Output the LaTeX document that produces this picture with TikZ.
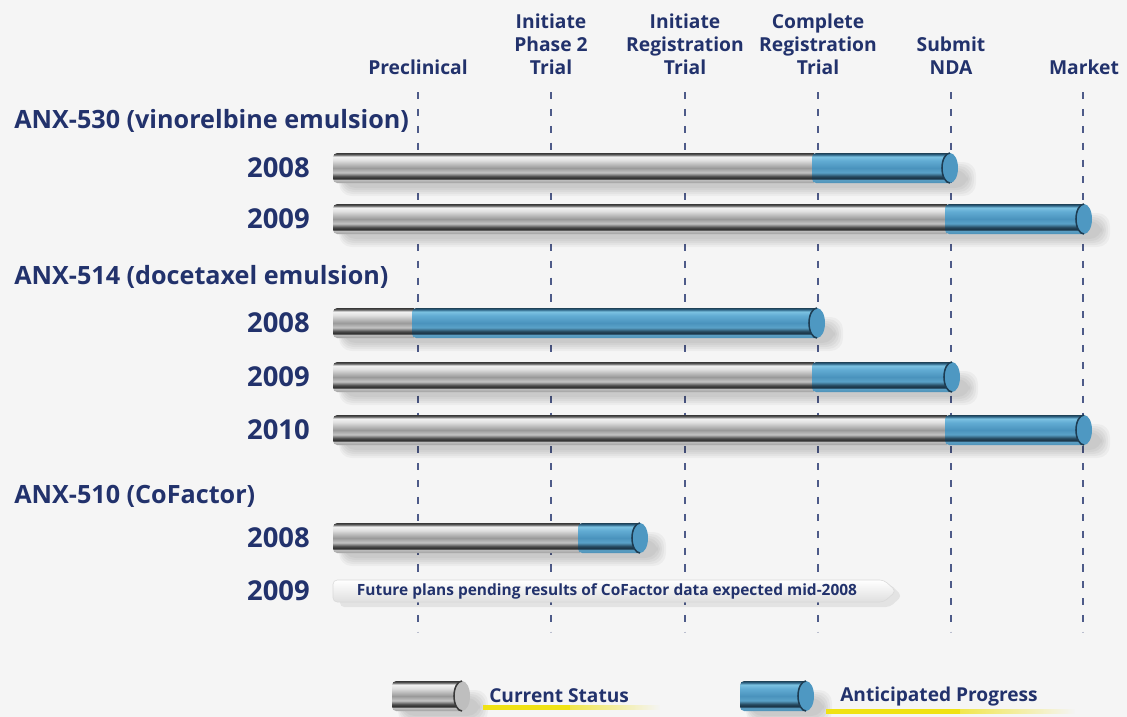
\documentclass[tikz,border=0pt]{standalone}
\usepackage{fontspec}
\setmainfont{Open Sans}
\usepackage{xcolor}
\usepackage{tikz}
\usetikzlibrary{fadings}

\definecolor{ink}{RGB}{34,50,108}
\definecolor{paper}{RGB}{245,245,245}
\definecolor{hiyellow}{RGB}{240,226,20}
% steel tube, bottom to top
\definecolor{stA}{HTML}{A0A0A0}
\definecolor{stB}{HTML}{BDBDBD}
\definecolor{stC}{HTML}{2E2E2E}
\definecolor{stD}{HTML}{4A4A4A}
\definecolor{stE}{HTML}{C4C4C4}
\definecolor{stF}{HTML}{9A9A9A}
\definecolor{stG}{HTML}{DEDEDE}
\definecolor{stH}{HTML}{F2F2F2}
\definecolor{stI}{HTML}{5A5A5A}
\definecolor{stJ}{HTML}{383838}
% blue tube, bottom to top
\definecolor{skA}{HTML}{4D90B6}
\definecolor{skB}{HTML}{5B9FC4}
\definecolor{skC}{HTML}{1A3346}
\definecolor{skD}{HTML}{24465C}
\definecolor{skE}{HTML}{5AA2C8}
\definecolor{skF}{HTML}{4A93BD}
\definecolor{skG}{HTML}{62ACD3}
\definecolor{skH}{HTML}{7CC2E2}
\definecolor{skI}{HTML}{2D6385}
\definecolor{skJ}{HTML}{1F4257}
\definecolor{skycap}{HTML}{4E98C2}
\definecolor{skyrim}{HTML}{1D3C52}
\definecolor{steelcap}{HTML}{BEBEBE}
\definecolor{steelrim}{HTML}{3A3A3A}

\pgfdeclareverticalshading{steel}{100bp}{color(0bp)=(stA); color(25bp)=(stA);
  color(30bp)=(stB); color(32.5bp)=(stC); color(36bp)=(stD); color(42.5bp)=(stE);
  color(50bp)=(stF); color(62.5bp)=(stG); color(69bp)=(stH); color(72.5bp)=(stI);
  color(75bp)=(stJ); color(100bp)=(stJ)}
\pgfdeclareverticalshading{sky}{100bp}{color(0bp)=(skA); color(25bp)=(skA);
  color(30bp)=(skB); color(32.5bp)=(skC); color(36bp)=(skD); color(42.5bp)=(skE);
  color(50bp)=(skF); color(62.5bp)=(skG); color(69bp)=(skH); color(72.5bp)=(skI);
  color(75bp)=(skJ); color(100bp)=(skJ)}

\tikzset{
  colhead/.style={font=\fontsize{13.7}{16.4}\selectfont\bfseries, text=ink, align=center, inner sep=0pt, anchor=south},
  drug/.style={font=\fontsize{17.9}{20}\selectfont\bfseries, text=ink, inner sep=0pt, anchor=west},
  yr/.style={font=\fontsize{19.5}{20}\selectfont\bfseries, text=ink, inner sep=0pt, anchor=east},
  key/.style={font=\fontsize{13.6}{16}\selectfont\bfseries, text=ink, inner sep=0pt, anchor=west},
  milestone/.style={draw=ink!80, line width=1.1pt, dash pattern=on 5pt off 7pt}
}

% tube pieces: row y, left end, right end
\newcommand{\tubeshadow}[3]{%
  \foreach \s in {0,...,4}
    \fill[black, opacity=0.035, rounded corners=9pt] (#2+6+\s,#1-6+2*\s) rectangle (#3+18-2*\s,#1+28-2*\s);}
\newcommand{\tubebody}[4]{%
  \shade[shading=#1] (#4,#2-15) [rounded corners=3pt] -- (#3,#2-15) -- (#3,#2+15)
    [sharp corners] -- (#4,#2+15) -- cycle;}
\newcommand{\tubecap}[4]{%
  \fill[#1] (#4-8,#3) ellipse [x radius=8, y radius=15];
  \draw[#2, line width=1.1pt] (#4-8,#3-15) arc[start angle=-90, end angle=-270, x radius=8, y radius=15];}
% a bar: row, start, switch to blue, end
\newcommand{\pipebar}[4]{%
  \tubeshadow{#1}{#2}{#4}
  \tubebody{steel}{#1}{#2}{#3+2}
  \tubebody{sky}{#1}{#3}{#4-8}
  \tubecap{skycap}{skyrim}{#1}{#4}}

\begin{document}
\begin{tikzpicture}[x=0.025cm, y=-0.025cm]
\useasboundingbox (0,0) rectangle (1127,717);
\fill[paper] (0,0) rectangle (1127,717);

% milestones
\node[colhead] (pre) at (418,75) {Preclinical};
\node[colhead] (ph2) at (551,75) {Initiate\\Phase 2\\Trial};
\node[colhead] (reg) at (685,75) {Initiate\\Registration\\Trial};
\node[colhead] (creg) at (818,75) {Complete\\Registration\\Trial};
\node[colhead] (nda) at (951,75) {Submit\\NDA};
\node[colhead] (mkt) at (1084,75) {Market};
\foreach \x in {418,551,685,818,951,1083}
  \draw[milestone] (\x,92) -- (\x,632);

% ANX-530
\node[drug] (a530) at (14,121) {ANX-530 (vinorelbine emulsion)};
\node[yr] (a530a) at (310,168) {2008};
\pipebar{168}{333}{812}{958}
\node[yr] (a530b) at (310,219) {2009};
\pipebar{219}{333}{945}{1092}

% ANX-514
\node[drug] (a514) at (14,277) {ANX-514 (docetaxel emulsion)};
\node[yr] (a514a) at (310,323) {2008};
\pipebar{323}{333}{412}{825}
\node[yr] (a514b) at (310,377) {2009};
\pipebar{377}{333}{812}{960}
\node[yr] (a514c) at (310,430) {2010};
\pipebar{430}{333}{945}{1092}

% ANX-510
\node[drug] (a510) at (14,496) {ANX-510 (CoFactor)};
\node[yr] (a510a) at (310,538) {2008};
\pipebar{538}{333}{578}{648}
\node[yr] (a510b) at (310,591) {2009};
\fill[black, opacity=0.07, rounded corners=3pt] (340,584) -- (890,584) -- (902,596) -- (890,607) -- (340,607) -- cycle;
\shade[top color=white, bottom color=gray!25, draw=gray!30, rounded corners=3pt]
  (884,580) -- (333,580) -- (333,602) -- (884,602) -- (896,591) -- cycle;
\node[font=\fontsize{11}{12}\selectfont\bfseries, text=ink] (plan) at (607,591)
  {Future plans pending results of CoFactor data expected mid-2008};

% legend
\tubeshadow{696}{392}{470}
\tubebody{steel}{696}{392}{462}
\tubecap{steelcap}{steelrim}{696}{470}
\fill[hiyellow] (483,705) rectangle (570,710);
\fill[hiyellow, path fading=east] (540,705) rectangle (660,710);
\node[key] (cur) at (489,696) {Current Status};
\tubeshadow{696}{740}{814}
\tubebody{sky}{696}{740}{806}
\tubecap{skycap}{skyrim}{696}{814}
\fill[hiyellow] (826,709) rectangle (960,714);
\fill[hiyellow, path fading=east] (920,709) rectangle (1075,714);
\node[key] (ant) at (840,697) {Anticipated Progress};
\end{tikzpicture}
\end{document}
